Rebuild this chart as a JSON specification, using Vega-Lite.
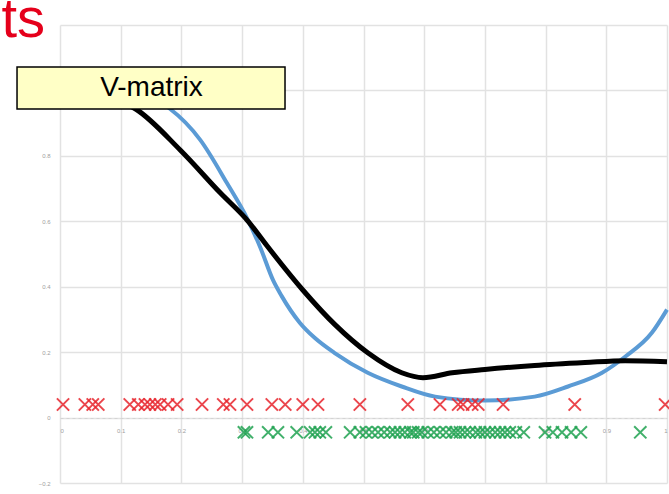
{
  "$schema": "https://vega.github.io/schema/vega-lite/v6.json",
  "autosize": {"type": "none"},
  "width": 607,
  "height": 458,
  "padding": {"left": 60, "top": 25, "right": 2, "bottom": 11},
  "background": "white",
  "title": {
    "text": "ts",
    "color": "#E5001B",
    "font": "Liberation Sans",
    "fontSize": 56,
    "fontWeight": "normal",
    "anchor": "start",
    "align": "right",
    "baseline": "alphabetic",
    "frame": "group",
    "offset": -68,
    "dx": -15
  },
  "datasets": {
    "curves": [
      {"series": "smooth", "x": 0.0, "y": 1.0},
      {"series": "smooth", "x": 0.1, "y": 0.995},
      {"series": "smooth", "x": 0.15, "y": 0.978},
      {"series": "smooth", "x": 0.181, "y": 0.944},
      {"series": "smooth", "x": 0.231, "y": 0.849},
      {"series": "smooth", "x": 0.275, "y": 0.717},
      {"series": "smooth", "x": 0.308, "y": 0.61},
      {"series": "smooth", "x": 0.33, "y": 0.52},
      {"series": "smooth", "x": 0.351, "y": 0.42},
      {"series": "smooth", "x": 0.365, "y": 0.372},
      {"series": "smooth", "x": 0.395, "y": 0.29},
      {"series": "smooth", "x": 0.42, "y": 0.243},
      {"series": "smooth", "x": 0.452, "y": 0.198},
      {"series": "smooth", "x": 0.507, "y": 0.137},
      {"series": "smooth", "x": 0.563, "y": 0.095},
      {"series": "smooth", "x": 0.618, "y": 0.064},
      {"series": "smooth", "x": 0.7, "y": 0.052},
      {"series": "smooth", "x": 0.782, "y": 0.064},
      {"series": "smooth", "x": 0.837, "y": 0.095},
      {"series": "smooth", "x": 0.893, "y": 0.137},
      {"series": "smooth", "x": 0.931, "y": 0.186},
      {"series": "smooth", "x": 0.975, "y": 0.259},
      {"series": "smooth", "x": 1.0, "y": 0.33},
      {"series": "vmatrix", "x": 0.0, "y": 1.0},
      {"series": "vmatrix", "x": 0.06, "y": 0.985},
      {"series": "vmatrix", "x": 0.124, "y": 0.944},
      {"series": "vmatrix", "x": 0.198, "y": 0.818},
      {"series": "vmatrix", "x": 0.264, "y": 0.687},
      {"series": "vmatrix", "x": 0.31, "y": 0.6},
      {"series": "vmatrix", "x": 0.341, "y": 0.525},
      {"series": "vmatrix", "x": 0.4, "y": 0.39},
      {"series": "vmatrix", "x": 0.453, "y": 0.284},
      {"series": "vmatrix", "x": 0.507, "y": 0.198},
      {"series": "vmatrix", "x": 0.563, "y": 0.137},
      {"series": "vmatrix", "x": 0.598, "y": 0.122},
      {"series": "vmatrix", "x": 0.646, "y": 0.137},
      {"series": "vmatrix", "x": 0.7, "y": 0.147},
      {"series": "vmatrix", "x": 0.782, "y": 0.159},
      {"series": "vmatrix", "x": 0.865, "y": 0.168},
      {"series": "vmatrix", "x": 0.931, "y": 0.174},
      {"series": "vmatrix", "x": 1.0, "y": 0.171}
    ],
    "samples": [
      {"group": "red", "x": 0.005, "y": 0.04},
      {"group": "red", "x": 0.041, "y": 0.04},
      {"group": "red", "x": 0.054, "y": 0.04},
      {"group": "red", "x": 0.063, "y": 0.04},
      {"group": "red", "x": 0.115, "y": 0.04},
      {"group": "red", "x": 0.129, "y": 0.04},
      {"group": "red", "x": 0.14, "y": 0.04},
      {"group": "red", "x": 0.148, "y": 0.04},
      {"group": "red", "x": 0.157, "y": 0.04},
      {"group": "red", "x": 0.165, "y": 0.04},
      {"group": "red", "x": 0.178, "y": 0.04},
      {"group": "red", "x": 0.193, "y": 0.04},
      {"group": "red", "x": 0.234, "y": 0.04},
      {"group": "red", "x": 0.269, "y": 0.04},
      {"group": "red", "x": 0.28, "y": 0.04},
      {"group": "red", "x": 0.308, "y": 0.04},
      {"group": "red", "x": 0.349, "y": 0.04},
      {"group": "red", "x": 0.371, "y": 0.04},
      {"group": "red", "x": 0.4, "y": 0.04},
      {"group": "red", "x": 0.425, "y": 0.04},
      {"group": "red", "x": 0.494, "y": 0.04},
      {"group": "red", "x": 0.573, "y": 0.04},
      {"group": "red", "x": 0.626, "y": 0.04},
      {"group": "red", "x": 0.656, "y": 0.04},
      {"group": "red", "x": 0.664, "y": 0.04},
      {"group": "red", "x": 0.679, "y": 0.04},
      {"group": "red", "x": 0.689, "y": 0.04},
      {"group": "red", "x": 0.73, "y": 0.04},
      {"group": "red", "x": 0.848, "y": 0.04},
      {"group": "red", "x": 0.997, "y": 0.04},
      {"group": "green", "x": 0.303, "y": -0.045},
      {"group": "green", "x": 0.308, "y": -0.045},
      {"group": "green", "x": 0.343, "y": -0.045},
      {"group": "green", "x": 0.359, "y": -0.045},
      {"group": "green", "x": 0.39, "y": -0.045},
      {"group": "green", "x": 0.412, "y": -0.045},
      {"group": "green", "x": 0.42, "y": -0.045},
      {"group": "green", "x": 0.428, "y": -0.045},
      {"group": "green", "x": 0.438, "y": -0.045},
      {"group": "green", "x": 0.478, "y": -0.045},
      {"group": "green", "x": 0.494, "y": -0.045},
      {"group": "green", "x": 0.504, "y": -0.045},
      {"group": "green", "x": 0.514, "y": -0.045},
      {"group": "green", "x": 0.524, "y": -0.045},
      {"group": "green", "x": 0.534, "y": -0.045},
      {"group": "green", "x": 0.544, "y": -0.045},
      {"group": "green", "x": 0.552, "y": -0.045},
      {"group": "green", "x": 0.56, "y": -0.045},
      {"group": "green", "x": 0.568, "y": -0.045},
      {"group": "green", "x": 0.577, "y": -0.045},
      {"group": "green", "x": 0.582, "y": -0.045},
      {"group": "green", "x": 0.59, "y": -0.045},
      {"group": "green", "x": 0.596, "y": -0.045},
      {"group": "green", "x": 0.606, "y": -0.045},
      {"group": "green", "x": 0.616, "y": -0.045},
      {"group": "green", "x": 0.626, "y": -0.045},
      {"group": "green", "x": 0.636, "y": -0.045},
      {"group": "green", "x": 0.646, "y": -0.045},
      {"group": "green", "x": 0.652, "y": -0.045},
      {"group": "green", "x": 0.659, "y": -0.045},
      {"group": "green", "x": 0.667, "y": -0.045},
      {"group": "green", "x": 0.675, "y": -0.045},
      {"group": "green", "x": 0.685, "y": -0.045},
      {"group": "green", "x": 0.692, "y": -0.045},
      {"group": "green", "x": 0.7, "y": -0.045},
      {"group": "green", "x": 0.708, "y": -0.045},
      {"group": "green", "x": 0.717, "y": -0.045},
      {"group": "green", "x": 0.725, "y": -0.045},
      {"group": "green", "x": 0.733, "y": -0.045},
      {"group": "green", "x": 0.741, "y": -0.045},
      {"group": "green", "x": 0.751, "y": -0.045},
      {"group": "green", "x": 0.764, "y": -0.045},
      {"group": "green", "x": 0.799, "y": -0.045},
      {"group": "green", "x": 0.812, "y": -0.045},
      {"group": "green", "x": 0.827, "y": -0.045},
      {"group": "green", "x": 0.842, "y": -0.045},
      {"group": "green", "x": 0.858, "y": -0.045},
      {"group": "green", "x": 0.956, "y": -0.045}
    ]
  },
  "layer": [
    {
      "data": {"name": "curves"},
      "transform": [{"filter": "datum.series === 'smooth'"}],
      "mark": {"type": "line", "color": "#5B9BD5", "strokeWidth": 4, "interpolate": "monotone"},
      "encoding": {
        "x": {
          "field": "x",
          "type": "quantitative",
          "scale": {"domain": [0, 1], "nice": false, "zero": false},
          "axis": {
            "title": null,
            "values": [0, 0.1, 0.2, 0.3, 0.4, 0.5, 0.6, 0.7, 0.8, 0.9, 1],
            "format": "~g",
            "offset": -65,
            "domain": true,
            "domainColor": "#d4d4d4",
            "domainDash": [3, 3],
            "domainWidth": 1,
            "labelPadding": 9,
            "grid": true
          }
        },
        "y": {
          "field": "y",
          "type": "quantitative",
          "scale": {"domain": [-0.2, 1.2], "nice": false, "zero": false},
          "axis": {
            "title": null,
            "values": [-0.2, 0, 0.2, 0.4, 0.6, 0.8, 1, 1.2],
            "format": "~g",
            "labelExpr": "datum.value > 1.1 ? '' : datum.label",
            "domain": false,
            "labelPadding": 10,
            "grid": true
          }
        }
      }
    },
    {
      "data": {"name": "curves"},
      "transform": [{"filter": "datum.series === 'vmatrix'"}],
      "mark": {"type": "line", "color": "#000000", "strokeWidth": 5, "interpolate": "monotone"},
      "encoding": {
        "x": {"field": "x", "type": "quantitative"},
        "y": {"field": "y", "type": "quantitative"}
      }
    },
    {
      "data": {"name": "samples"},
      "mark": {
        "type": "point",
        "shape": "M-1,-1L1,1M-1,1L1,-1",
        "filled": false,
        "strokeWidth": 2,
        "size": 150,
        "opacity": 0.85
      },
      "encoding": {
        "x": {"field": "x", "type": "quantitative"},
        "y": {"field": "y", "type": "quantitative"},
        "color": {
          "field": "group",
          "type": "nominal",
          "scale": {"domain": ["red", "green"], "range": ["#E8262E", "#21A352"]},
          "legend": null
        }
      }
    },
    {
      "data": {"values": [{"text": "V-matrix"}]},
      "layer": [
        {
          "mark": {"type": "rect", "fill": "#FFFFC6", "stroke": "#000000", "strokeWidth": 1.5},
          "encoding": {
            "x": {"datum": -0.0708, "type": "quantitative"},
            "x2": {"datum": 0.3707},
            "y": {"datum": 1.0718, "type": "quantitative"},
            "y2": {"datum": 0.9435}
          }
        },
        {
          "mark": {
            "type": "text",
            "font": "Liberation Sans",
            "fontSize": 28,
            "color": "#000000",
            "align": "center",
            "baseline": "middle"
          },
          "encoding": {
            "x": {"datum": 0.1507, "type": "quantitative"},
            "y": {"datum": 1.008, "type": "quantitative"},
            "text": {"field": "text"}
          }
        }
      ]
    }
  ],
  "config": {
    "view": {"stroke": null},
    "axis": {
      "labelFont": "Liberation Sans",
      "labelFontSize": 6,
      "labelColor": "#a0a0a0",
      "gridColor": "#e2e2e2",
      "gridWidth": 1.5,
      "ticks": false
    }
  }
}
